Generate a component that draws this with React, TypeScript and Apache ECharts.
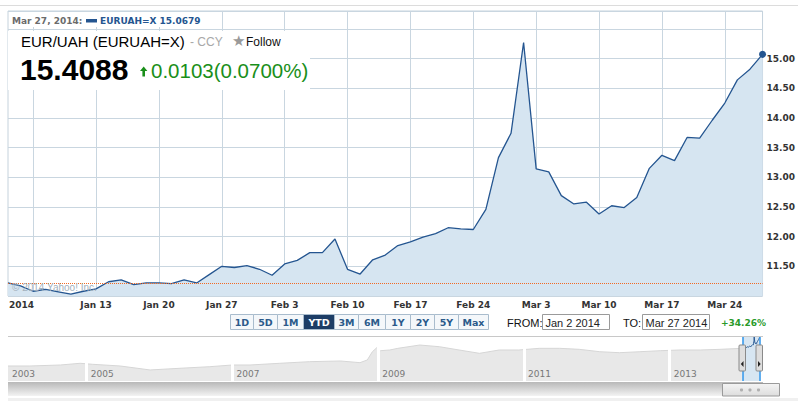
import React, { useEffect, useRef } from 'react';
import * as echarts from 'echarts';

// ---------- DATA ----------
const dates: string[] = [
  '2014-01-02', '2014-01-03', '2014-01-06', '2014-01-07', '2014-01-08', '2014-01-09', '2014-01-10',
  '2014-01-13', '2014-01-14', '2014-01-15', '2014-01-16', '2014-01-17',
  '2014-01-20', '2014-01-21', '2014-01-22', '2014-01-23', '2014-01-24',
  '2014-01-27', '2014-01-28', '2014-01-29', '2014-01-30', '2014-01-31',
  '2014-02-03', '2014-02-04', '2014-02-05', '2014-02-06', '2014-02-07',
  '2014-02-10', '2014-02-11', '2014-02-12', '2014-02-13', '2014-02-14',
  '2014-02-17', '2014-02-18', '2014-02-19', '2014-02-20', '2014-02-21',
  '2014-02-24', '2014-02-25', '2014-02-26', '2014-02-27', '2014-02-28',
  '2014-03-03', '2014-03-04', '2014-03-05', '2014-03-06', '2014-03-07',
  '2014-03-10', '2014-03-11', '2014-03-12', '2014-03-13', '2014-03-14',
  '2014-03-17', '2014-03-18', '2014-03-19', '2014-03-20', '2014-03-21',
  '2014-03-24', '2014-03-25', '2014-03-26', '2014-03-27',
];

const closes: number[] = [
  11.22, 11.17, 11.08, 11.11, 11.07, 11.03, 11.08,
  11.12, 11.24, 11.27, 11.19, 11.22,
  11.22, 11.21, 11.27, 11.22, 11.36,
  11.50, 11.48, 11.51, 11.45, 11.35,
  11.54, 11.60, 11.73, 11.73, 11.96,
  11.45, 11.37, 11.61, 11.69, 11.85,
  11.91, 11.99, 12.05, 12.15, 12.13,
  12.12, 12.46, 13.33, 13.74, 15.27,
  13.14, 13.09, 12.69, 12.55, 12.58,
  12.38, 12.52, 12.49, 12.66, 13.15,
  13.37, 13.28, 13.67, 13.66, 13.96,
  14.25, 14.64, 14.82, 15.07,
];

const navYears: number[] = [
  2003.92, 2004.22, 2004.64, 2004.91, 2005.08, 2005.46, 2005.87, 2006.28, 2006.69, 2007.0,
  2007.24, 2007.65, 2008.06, 2008.48, 2008.75, 2008.85, 2008.92, 2008.98, 2009.03, 2009.16,
  2009.27, 2009.57, 2009.84, 2010.11, 2010.39, 2010.66, 2010.93, 2011.21, 2011.49, 2011.76,
  2012.04, 2012.31, 2012.59, 2012.87, 2013.14, 2013.42, 2013.69, 2013.99,
];
const navValues: number[] = [
  6.61, 6.61, 6.8, 7.14, 6.94, 6.61, 5.9, 6.19, 6.48, 6.8,
  6.8, 7.14, 7.48, 7.63, 7.27, 7.85, 9.95, 11.15, 10.24, 10.45,
  10.96, 12.05, 11.48, 10.45, 9.5, 10.45, 10.45, 10.96, 10.96, 10.65,
  9.95, 9.67, 9.95, 10.24, 10.45, 10.45, 10.65, 10.96,
];
const navYearLabels: number[] = [2003.92, 2005, 2007, 2009, 2011, 2013];

const rangeButtons: string[] = ['1D', '5D', '1M', 'YTD', '3M', '6M', '1Y', '2Y', '5Y', 'Max'];
const selectedRange = 'YTD';
const headerDate = 'Mar 27, 2014:';
const legendText = 'EURUAH=X 15.0679';
const titleText = 'EUR/UAH (EURUAH=X)';
const exchangeText = '- CCY';
const lastPrice = '15.4088';
const dayChange = '0.0103(0.0700%)';
const fromDate = 'Jan 2 2014';
const toDate = 'Mar 27 2014';
const periodChange = '+34.26%';
const watermark = '\u00A9 2014 Yahoo! Inc.';

const MONTHS = ['Jan', 'Feb', 'Mar', 'Apr', 'May', 'Jun', 'Jul', 'Aug', 'Sep', 'Oct', 'Nov', 'Dec'];

function parseDate(iso: string) {
  return new Date(iso + 'T00:00:00Z');
}
function isMonday(iso: string) {
  return parseDate(iso).getUTCDay() === 1;
}
function decYear(iso: string) {
  const d = parseDate(iso).getTime();
  const y = parseDate(iso).getUTCFullYear();
  const s = Date.UTC(y, 0, 1);
  return y + (d - s) / 86400000 / 365;
}

const DV = '"DejaVu Sans", Verdana, sans-serif';
const LS = '"Liberation Sans", Arial, sans-serif';

export default function App() {
  const ref = useRef<HTMLDivElement>(null);

  useEffect(() => {
    if (!ref.current) return;
    const chart = echarts.init(ref.current, undefined, { renderer: 'svg' });

    const navBlue = dates.map((d, i) => [decYear(d), closes[i]]);
    const selStart = decYear(dates[0]);
    const selEnd = decYear(dates[dates.length - 1]);

    // range buttons layout
    const btnEdges = [230, 253, 277, 303, 334, 358, 385, 410, 434, 458, 488];
    const buttons: any[] = [];
    rangeButtons.forEach((b, i) => {
      const x0 = btnEdges[i];
      const w = btnEdges[i + 1] - x0;
      const sel = b === selectedRange;
      buttons.push({
        type: 'rect', z: 100,
        shape: { x: x0 + 0.5, y: 314.5, width: w, height: 15 },
        style: { fill: sel ? '#1d3d66' : '#f4f7fa', stroke: '#a9bccd', lineWidth: 1 },
      });
      buttons.push({
        type: 'text', z: 101, x: x0 + w / 2 + 0.5, y: 322,
        style: {
          text: b, fill: sel ? '#ffffff' : '#2b5a8a',
          font: `bold 9.5px ${DV}`, align: 'center', verticalAlign: 'middle',
        },
      });
    });

    const option: any = {
      animation: false,
      backgroundColor: '#ffffff',
      grid: [
        { left: 8, top: 11, width: 755, height: 285, show: true, borderColor: '#c5d2dc', borderWidth: 1, backgroundColor: '#fff' },
        { left: 8, top: 336, width: 755, height: 45 },
      ],
      xAxis: [
        {
          type: 'category', gridIndex: 0, data: dates, boundaryGap: false,
          axisLine: { show: false }, axisTick: { show: false },
          axisLabel: {
            interval: (i: number, v: string) => i === 0 || (isMonday(v) && i > 2),
            formatter: (v: string, i: number) => {
              if (i === 0) return '{y|' + String(parseDate(v).getUTCFullYear()) + '}';
              const d = parseDate(v);
              return MONTHS[d.getUTCMonth()] + ' ' + d.getUTCDate();
            },
            color: '#333', fontFamily: DV, fontWeight: 'bold', fontSize: 9, margin: 4,
            rich: { y: { padding: [0, 0, 0, 27], color: '#333', fontFamily: DV, fontWeight: 'bold', fontSize: 9 } },
          },
          splitLine: {
            show: true,
            interval: (i: number, v: string) => isMonday(v),
            lineStyle: { color: '#c9d6e0', width: 1 },
          },
        },
        {
          type: 'value', gridIndex: 1, min: navYears[0], max: 2014.28, z: 10,
          axisLine: { show: false }, axisTick: { show: false }, splitLine: { show: false },
          axisLabel: {
            inside: true, customValues: navYearLabels,
            formatter: (v: number) => String(Math.floor(v + 0.01)),
            align: 'left', padding: [0, 0, 0, 4], color: '#777777', fontFamily: DV, fontSize: 9, margin: 3,
          },
        },
      ],
      yAxis: [
        {
          type: 'value', gridIndex: 0, position: 'right', min: 11, max: 15.8, interval: 0.5,
          axisLine: { show: false }, axisTick: { show: false },
          splitLine: { lineStyle: { color: '#c9d6e0', width: 1 } },
          axisLabel: {
            formatter: (v: number) => (v < 11.2 || v > 15.2 ? '' : v.toFixed(2)),
            color: '#333', fontFamily: DV, fontWeight: 'bold', fontSize: 9, margin: 4,
          },
        },
        {
          type: 'log', gridIndex: 1, min: 4.3, max: 15.6, show: false,
          axisLine: { show: false }, axisTick: { show: false }, splitLine: { show: false }, axisLabel: { show: false },
        },
      ],
      series: [
        {
          type: 'line', xAxisIndex: 0, yAxisIndex: 0, data: closes,
          symbol: 'none', showSymbol: false, z: 3,
          lineStyle: { color: '#245590', width: 1.3 },
          areaStyle: { color: '#d6e5f1', origin: 'start', opacity: 1 },
          markLine: {
            silent: true, symbol: ['none', 'none'], label: { show: false },
            lineStyle: { color: '#f26a24', type: 'dotted', width: 1 },
            data: [{ yAxis: closes[0] }],
          },
          markPoint: {
            silent: true, symbol: 'circle', symbolSize: 7,
            itemStyle: { color: '#245590' }, label: { show: false },
            data: [{ coord: [dates[dates.length - 1], closes[closes.length - 1]] }],
          },
        },
        {
          type: 'line', xAxisIndex: 1, yAxisIndex: 1,
          data: navYears.map((y, i) => [y, navValues[i]]),
          symbol: 'none', showSymbol: false,
          lineStyle: { color: '#d6d6d6', width: 1 },
          areaStyle: { color: '#e8e8e8', origin: 'start', opacity: 1 },
          markLine: {
            silent: true, symbol: ['none', 'none'], label: { show: false },
            lineStyle: { color: '#ffffff', width: 3, type: 'solid' },
            data: navYearLabels.slice(1).map((x) => ({ xAxis: x })),
          },
        },
        {
          type: 'line', xAxisIndex: 1, yAxisIndex: 1, data: navBlue,
          symbol: 'none', showSymbol: false, z: 4,
          lineStyle: { color: '#2a5a93', width: 1 },
          markArea: {
            silent: true, itemStyle: { color: '#d7e6f2' },
            data: [[{ xAxis: selStart }, { xAxis: selEnd }]],
          },
          markLine: {
            silent: true, symbol: ['none', 'none'], label: { show: false },
            lineStyle: { color: '#2f95ea', width: 1.5, type: 'solid' },
            data: [{ xAxis: selStart }, { xAxis: selEnd }],
          },
        },
      ],
      graphic: [
        { type: 'line', z: 100, shape: { x1: 0, y1: 5.5, x2: 798, y2: 5.5 }, style: { stroke: '#dcdcdc', lineWidth: 1 } },
        // header row
        { type: 'rect', z: 100, shape: { x: 9, y: 12, width: 200, height: 15 }, style: { fill: '#ffffff' } },
        { type: 'text', z: 101, x: 12, y: 20.5, style: { text: headerDate, fill: '#6b6b6b', font: `bold 9px ${DV}`, verticalAlign: 'middle' } },
        { type: 'rect', z: 101, shape: { x: 86, y: 19, width: 11, height: 3.5 }, style: { fill: '#245590' } },
        { type: 'text', z: 101, x: 100, y: 20.5, style: { text: legendText, fill: '#245590', font: `bold 9px ${DV}`, verticalAlign: 'middle' } },
        // quote box
        { type: 'rect', z: 100, shape: { x: 8, y: 31, width: 302, height: 59 }, style: { fill: '#ffffff' } },
        { type: 'text', z: 101, x: 21, y: 41, style: { text: titleText, fill: '#000', font: `15px ${LS}`, verticalAlign: 'middle' } },
        { type: 'text', z: 101, x: 190, y: 41.5, style: { text: exchangeText, fill: '#a8a8a8', font: `12px ${LS}`, verticalAlign: 'middle' } },
        { type: 'text', z: 101, x: 232, y: 41, style: { text: '\u2605', fill: '#9a9a9a', font: `15px ${DV}`, verticalAlign: 'middle' } },
        { type: 'text', z: 101, x: 246, y: 42, style: { text: 'Follow', fill: '#111', font: `12px ${LS}`, verticalAlign: 'middle' } },
        { type: 'text', z: 101, x: 20, y: 69, style: { text: lastPrice, fill: '#000', font: `bold 30px ${LS}`, verticalAlign: 'middle' } },
        { type: 'polygon', z: 101, shape: { points: [[140, 71], [143.7, 66.5], [147.4, 71], [145, 71], [145, 76.5], [142.4, 76.5], [142.4, 71]] }, style: { fill: '#1a8f1a' } },
        { type: 'text', z: 101, x: 151, y: 70.5, style: { text: dayChange, fill: '#1a8f1a', font: `20.5px ${LS}`, verticalAlign: 'middle' } },
        // watermark
        { type: 'text', z: 100, x: 12, y: 287, style: { text: watermark, fill: '#a3b1bd', font: `10px ${LS}`, verticalAlign: 'middle' } },
        // controls
        ...buttons,
        { type: 'text', z: 101, x: 507, y: 322.5, style: { text: 'FROM:', fill: '#111', font: `11px ${LS}`, verticalAlign: 'middle' } },
        { type: 'rect', z: 100, shape: { x: 542.5, y: 314.5, width: 67, height: 15 }, style: { fill: '#fff', stroke: '#9a9a9a', lineWidth: 1 } },
        { type: 'text', z: 101, x: 545.5, y: 322.5, style: { text: fromDate, fill: '#222', font: `11px ${LS}`, verticalAlign: 'middle' } },
        { type: 'text', z: 101, x: 623, y: 322.5, style: { text: 'TO:', fill: '#111', font: `11px ${LS}`, verticalAlign: 'middle' } },
        { type: 'rect', z: 100, shape: { x: 642.5, y: 314.5, width: 67, height: 15 }, style: { fill: '#fff', stroke: '#9a9a9a', lineWidth: 1 } },
        { type: 'text', z: 101, x: 645.5, y: 322.5, style: { text: toDate, fill: '#222', font: `11px ${LS}`, verticalAlign: 'middle' } },
        { type: 'text', z: 101, x: 721, y: 322.5, style: { text: periodChange, fill: '#2a9a2a', font: `bold 9px ${DV}`, verticalAlign: 'middle' } },
        // navigator frame
        { type: 'line', z: 100, shape: { x1: 8, y1: 336.5, x2: 763, y2: 336.5 }, style: { stroke: '#c8c8c8', lineWidth: 1 } },
        // handles
        { type: 'rect', z: 102, shape: { x: 739, y: 345, width: 6.5, height: 26, r: 1 }, style: { fill: '#dedede', stroke: '#8a8a8a', lineWidth: 1 } },
        { type: 'polygon', z: 103, shape: { points: [[743.5, 361], [743.5, 367], [740.8, 364]] }, style: { fill: '#222' } },
        { type: 'rect', z: 102, shape: { x: 756, y: 345, width: 6.5, height: 26, r: 1 }, style: { fill: '#dedede', stroke: '#8a8a8a', lineWidth: 1 } },
        { type: 'polygon', z: 103, shape: { points: [[758, 361], [758, 367], [760.7, 364]] }, style: { fill: '#222' } },
        // scrollbar
        {
          type: 'rect', z: 100, shape: { x: 8, y: 382, width: 755, height: 14 },
          style: { fill: { type: 'linear', x: 0, y: 0, x2: 0, y2: 1, colorStops: [{ offset: 0, color: '#b8b8b8' }, { offset: 1, color: '#f3f3f3' }] } },
        },
        {
          type: 'rect', z: 101, shape: { x: 722.5, y: 383.5, width: 57, height: 12.5 },
          style: { fill: { type: 'linear', x: 0, y: 0, x2: 0, y2: 1, colorStops: [{ offset: 0, color: '#f4f4f4' }, { offset: 1, color: '#dddddd' }] }, stroke: '#9a9a9a', lineWidth: 1 },
        },
        { type: 'circle', z: 102, shape: { cx: 741.5, cy: 390, r: 1.6 }, style: { fill: '#b0b0b0' } },
        { type: 'circle', z: 102, shape: { cx: 750, cy: 390, r: 1.6 }, style: { fill: '#b0b0b0' } },
        { type: 'circle', z: 102, shape: { cx: 758.5, cy: 390, r: 1.6 }, style: { fill: '#b0b0b0' } },
        { type: 'rect', z: 100, shape: { x: 8, y: 398, width: 790, height: 3 }, style: { fill: '#f0f0f0' } },
      ],
    };

    chart.setOption(option);
    return () => chart.dispose();
  }, []);

  return (
    <div
      ref={ref}
      style={{ position: 'absolute', left: 0, top: 0, width: 798, height: 401, background: '#fff' }}
    />
  );
}
